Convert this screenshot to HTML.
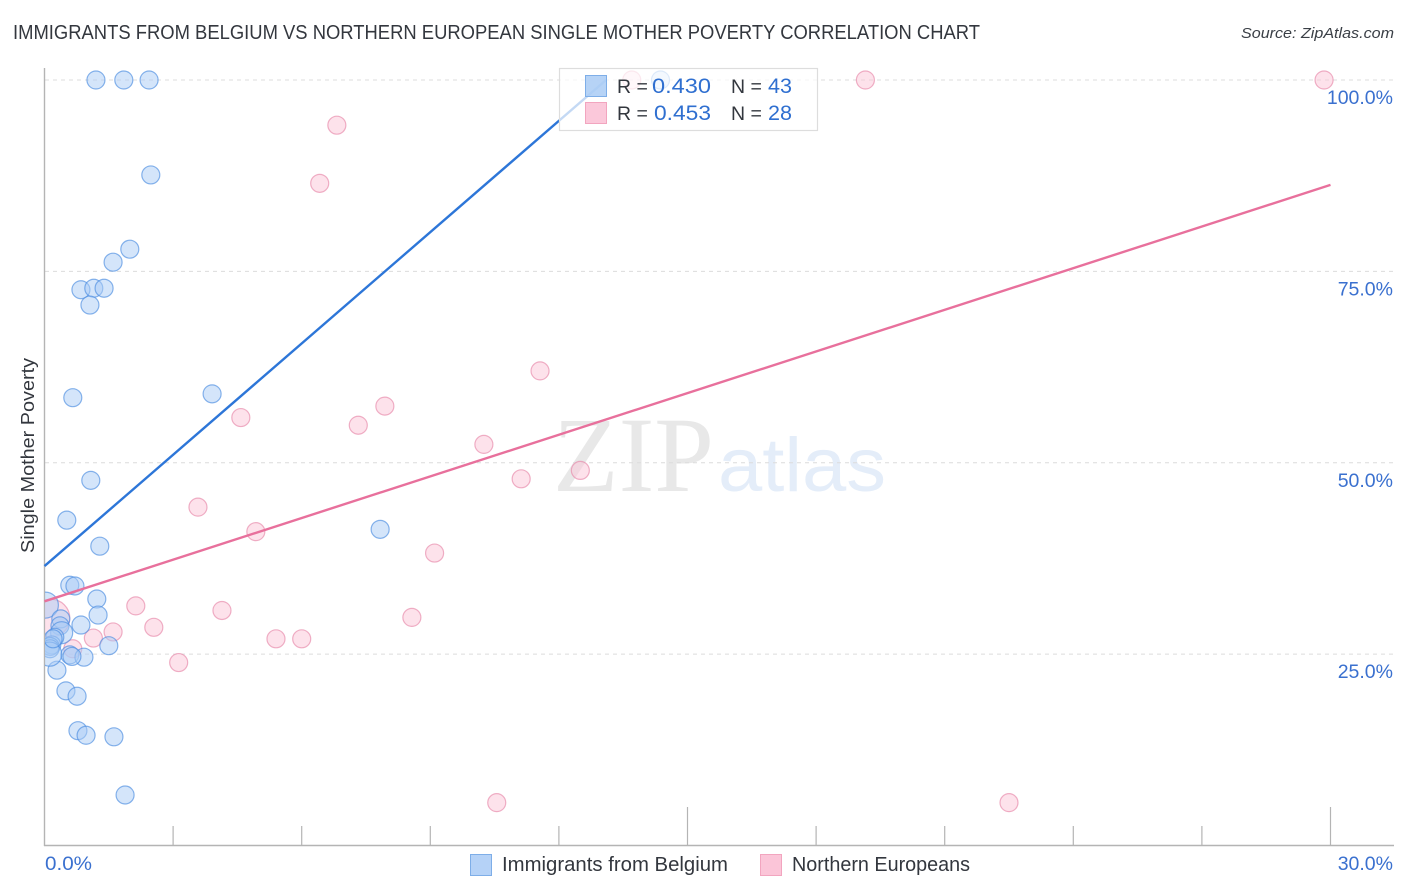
<!DOCTYPE html>
<html lang="en">
<head>
<meta charset="utf-8">
<title>Immigrants from Belgium vs Northern European Single Mother Poverty Correlation Chart</title>
<style>
html,body{margin:0;padding:0;background:#fff;width:1406px;height:892px;overflow:hidden}
svg{display:block}
text{font-family:"Liberation Sans",sans-serif}
</style>
</head>
<body>
<svg id="chart" xmlns="http://www.w3.org/2000/svg" width="1406" height="892" viewBox="0 0 1406 892">
  <defs><clipPath id="plot-clip"><rect x="45" y="60" width="1349" height="785"/></clipPath></defs>
  <text x="13" y="39" font-size="20" fill="#33373e" textLength="967" lengthAdjust="spacingAndGlyphs">IMMIGRANTS FROM BELGIUM VS NORTHERN EUROPEAN SINGLE MOTHER POVERTY CORRELATION CHART</text>
  <text x="1241" y="38" font-size="15" font-style="italic" fill="#3a3f46" textLength="153" lengthAdjust="spacingAndGlyphs">Source: ZipAtlas.com</text>
  <g>
    <text x="553" y="491" font-size="107" fill="#e8e8e8" textLength="161" lengthAdjust="spacingAndGlyphs" style="font-family:'Liberation Serif',serif">ZIP</text>
    <text x="718" y="491" font-size="76" fill="#e4edf9" textLength="168" lengthAdjust="spacingAndGlyphs">atlas</text>
  </g>
  <g id="grid"></g>
  <g id="axes"></g>
  <g id="points" clip-path="url(#plot-clip)"></g>
  <g id="trends"></g>
  <g id="labels"></g>
  <text transform="translate(34 553) rotate(-90)" font-size="18.5" fill="#33373e" textLength="195" lengthAdjust="spacingAndGlyphs">Single Mother Poverty</text>

  <g>
    <rect x="559.5" y="68.5" width="258" height="62" fill="#ffffff" fill-opacity="0.72" stroke="#dddddd" stroke-width="1.2"/>
    <rect x="585.5" y="75.5" width="21" height="21" fill="#a9cbf5" fill-opacity="0.85" stroke="#7eaee8"/>
    <rect x="585.5" y="102.5" width="21" height="21" fill="#fbc5d8" fill-opacity="0.95" stroke="#f2a5bf"/>
    <text x="617" y="93" font-size="19.5" fill="#33373e">R =</text>
    <text x="652" y="93" font-size="21.5" fill="#2f6fd0" textLength="59" lengthAdjust="spacingAndGlyphs">0.430</text>
    <text x="731" y="93" font-size="19.5" fill="#33373e">N =</text>
    <text x="768" y="93" font-size="21.5" fill="#2f6fd0" textLength="24" lengthAdjust="spacingAndGlyphs">43</text>
    <text x="617" y="120" font-size="19.5" fill="#33373e">R =</text>
    <text x="654" y="120" font-size="21.5" fill="#2f6fd0" textLength="57" lengthAdjust="spacingAndGlyphs">0.453</text>
    <text x="731" y="120" font-size="19.5" fill="#33373e">N =</text>
    <text x="768" y="120" font-size="21.5" fill="#2f6fd0" textLength="24" lengthAdjust="spacingAndGlyphs">28</text>
  </g>

  <g>
    <rect x="470.5" y="854.5" width="21" height="21" fill="#b5d2f7" stroke="#7eaee8"/>
    <text x="502" y="871" font-size="20" fill="#33373e" textLength="226" lengthAdjust="spacingAndGlyphs">Immigrants from Belgium</text>
    <rect x="760.5" y="854.5" width="21" height="21" fill="#fbc5d8" stroke="#f2a5bf"/>
    <text x="792" y="871" font-size="20" fill="#33373e" textLength="178" lengthAdjust="spacingAndGlyphs">Northern Europeans</text>
  </g>
</svg>
<script>
const yTickValues = [25, 50, 75, 100];
const yTickLabels = ["25.0%", "50.0%", "75.0%", "100.0%"];
const xTickValues = [3, 6, 9, 12, 15, 18, 21, 24, 27, 30];
const xEndLabels = ["0.0%", "30.0%"];
const belgiumX = [1.20,1.85,2.44,14.37,2.48,1.99,1.60,0.85,1.15,1.39,1.06,0.66,3.91,1.08,0.52,1.29,7.83,0.59,0.71,1.22,1.25,0.02,0.85,0.38,0.36,0.40,0.24,0.17,1.50,0.13,0.13,0.59,0.92,0.64,0.29,0.50,0.76,0.78,0.97,1.62,1.88,0.12,0.20];
const belgiumY = [100,100,100,100,87.6,77.9,76.2,72.6,72.8,72.8,70.6,58.5,59.0,47.7,42.5,39.1,41.3,34.0,33.9,32.2,30.1,31.4,28.8,29.6,28.7,27.8,27.2,26.2,26.1,26.0,25.7,24.9,24.6,24.7,22.9,20.2,19.5,15.0,14.4,14.2,6.6,25.0,27.0];
const belgiumWeight = [1,1,1,1,1,1,1,1,1,1,1,1,1,1,1,1,1,1,1,1,1,2.1,1,1,1,1.5,1,1,1,1,1,1,1,1,1,1,1,1,1,1,1,1.8,1];
const northernX = [13.7,19.15,29.85,6.82,6.42,11.56,7.94,7.32,4.58,10.25,12.5,11.12,3.58,4.93,9.1,2.13,4.14,8.57,2.55,1.6,1.14,5.4,6.0,0.66,3.13,10.55,22.5,0.15];
const northernY = [100,100,100,94.1,86.5,62.0,57.4,54.9,55.9,52.4,49.0,47.9,44.2,41.0,38.2,31.3,30.7,29.8,28.5,27.9,27.1,27.0,27.0,25.7,23.9,5.6,5.6,29.7];
const northernWeight = [1,1,1,1,1,1,1,1,1,1,1,1,1,1,1,1,1,1,1,1,1,1,1,1,1,1,1,4.4];
const belgiumTrendX = [0.0, 13.1];
const belgiumTrendY = [36.5, 100];
const northernTrendX = [0.0, 30.0];
const northernTrendY = [31.9, 86.3];

const SVG_NS = "http://www.w3.org/2000/svg";
const xScale = v => 44.5 + v * (1330.5 - 44.5) / 30;
const yScale = v => 845.5 - v * (845.5 - 80) / 100;
const radius = w => 9 * Math.sqrt(w);

function make(tag, parent, attrs) {
  const el = document.createElementNS(SVG_NS, tag);
  for (const k in attrs) el.setAttribute(k, attrs[k]);
  parent.appendChild(el);
  return el;
}

const grid = document.getElementById("grid");
const axes = document.getElementById("axes");
const points = document.getElementById("points");
const trends = document.getElementById("trends");
const labels = document.getElementById("labels");

yTickValues.forEach((v, i) => {
  const line = make("line", grid, {x1: 45, x2: 1394, y1: yScale(v), y2: yScale(v), stroke: "#dcdcdc", "stroke-width": 1, "stroke-dasharray": "4 4"});
  
  
  const t = make("text", labels, {x: 1393, y: yScale(v) + 24, "text-anchor": "end", "font-size": 19.5, fill: "#3a70cf"});
  t.textContent = yTickLabels[i];
  
  
});

const yAxis = make("line", axes, {x1: 44.5, x2: 44.5, y1: 68, y2: 846, stroke: "#b4b4b4", "stroke-width": 1.4});


const xAxis = make("line", axes, {x1: 44, x2: 1394, y1: 845.5, y2: 845.5, stroke: "#b4b4b4", "stroke-width": 1.4});



xTickValues.forEach(v => {
  const major = v % 15 === 0;
  const tick = make("line", axes, {x1: xScale(v), x2: xScale(v), y1: major ? 807 : 826, y2: 845, stroke: "#b4b4b4", "stroke-width": 1.2});
  
  
});

const xLabelStart = make("text", labels, {x: 45, y: 870, "font-size": 19.5, fill: "#3a70cf", textLength: 47, lengthAdjust: "spacingAndGlyphs"});
xLabelStart.textContent = xEndLabels[0];


const xLabelEnd = make("text", labels, {x: 1393, y: 870, "text-anchor": "end", "font-size": 19.5, fill: "#3a70cf"});
xLabelEnd.textContent = xEndLabels[1];



northernX.forEach((v, i) => {
  const c = make("circle", points, {cx: xScale(v), cy: yScale(northernY[i]), r: radius(northernWeight[i]), fill: "#fbc5d8", "fill-opacity": 0.5, stroke: "#e88fae", "stroke-opacity": 0.7, "stroke-width": 1.2});
  
  
});
belgiumX.forEach((v, i) => {
  const c = make("circle", points, {cx: xScale(v), cy: yScale(belgiumY[i]), r: radius(belgiumWeight[i]), fill: "#a9cbf5", "fill-opacity": 0.5, stroke: "#4a8ce0", "stroke-opacity": 0.65, "stroke-width": 1.2});
  
  
});

const trendNorthern = make("line", trends, {x1: xScale(northernTrendX[0]), y1: yScale(northernTrendY[0]), x2: xScale(northernTrendX[1]), y2: yScale(northernTrendY[1]), stroke: "#e8709c", "stroke-width": 2.4});


const trendBelgium = make("line", trends, {x1: xScale(belgiumTrendX[0]), y1: yScale(belgiumTrendY[0]), x2: xScale(belgiumTrendX[1]), y2: yScale(belgiumTrendY[1]), stroke: "#2d76d8", "stroke-width": 2.4});


</script>
</body>
</html>
